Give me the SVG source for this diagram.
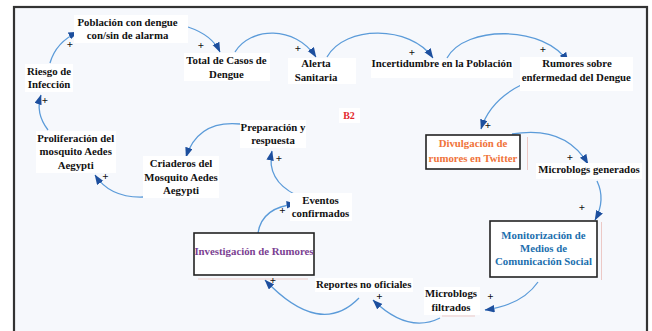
<svg xmlns="http://www.w3.org/2000/svg" width="652" height="331" viewBox="0 0 652 331">
<defs>
<marker id="ah" markerUnits="userSpaceOnUse" markerWidth="10" markerHeight="8" refX="9.5" refY="3.75" orient="auto">
<path d="M0,0 L10,3.75 L0,7.5 z" fill="#1d4f9e"/>
</marker>
<style>
.t{font-family:"Liberation Serif","Times New Roman",serif;font-weight:bold;font-size:10.8px;fill:#111;text-anchor:middle}
.p{font-family:"Liberation Serif","Times New Roman",serif;font-weight:bold;font-size:11px;fill:#111;text-anchor:middle}
.bg{fill:#ffffff}
.box{fill:#ffffff;stroke:#222;stroke-width:1.6}
.c{fill:none;stroke:#5b9bd9;stroke-width:1.3;marker-end:url(#ah)}
.ghost{stroke:#ecc9c6;stroke-width:1;fill:none}
</style>
</defs>
<rect x="0" y="0" width="652" height="331" fill="#ffffff"/>
<rect x="14" y="7" width="633" height="340" fill="#f6f8fc" stroke="#333" stroke-width="2.2"/>

<g id="connectors">
<path class="c" d="M50,63 Q56,42 78,32"/>
<path class="c" d="M48,130 Q35,113 41,95"/>
<path class="c" d="M188,27 Q212,35 220,52"/>
<path class="c" d="M235,52 C250,27 295,25 316,57"/>
<path class="c" d="M327,57 C345,25 410,25 433,58"/>
<path class="c" d="M447,58 C465,25 545,25 568,62"/>
<path class="c" d="M523,84 Q490,100 481,129"/>
<path class="c" d="M512,134 Q565,125 588,164"/>
<path class="c" d="M597,181 Q606,200 595,220"/>
<path class="c" d="M538,282 Q522,305 485,310"/>
<path class="c" d="M440,318 Q408,334 373,300"/>
<path class="c" d="M359,298 Q320,338 265,280"/>
<path class="c" d="M258,233 Q262,207 296,204"/>
<path class="c" d="M296,195 Q266,180 272,151"/>
<path class="c" d="M240,124 Q198,120 186,157"/>
<path class="c" d="M143,197 Q110,198 95,175"/>
</g>

<g id="n_poblacion">
<rect class="bg" x="74" y="15" width="114" height="28"/>
<text class="t" x="127.5" y="26">Población con dengue</text>
<text class="t" x="127.5" y="38.5">con/sin de alarma</text>
</g>
<g id="n_riesgo">
<rect class="bg" x="25" y="64" width="48" height="28"/>
<text class="t" x="49" y="75">Riesgo de</text>
<text class="t" x="49" y="88">Infección</text>
</g>
<g id="n_total">
<rect class="bg" x="184" y="53" width="86" height="28"/>
<text class="t" x="226.5" y="64">Total de Casos de</text>
<text class="t" x="226.5" y="77.5">Dengue</text>
</g>
<g id="n_alerta">
<rect class="bg" x="288" y="58" width="68" height="26"/>
<text class="t" x="316" y="67.3">Alerta</text>
<text class="t" x="316" y="80.7">Sanitaria</text>
</g>
<g id="n_incertidumbre">
<rect class="bg" x="371" y="60" width="142" height="18"/>
<text class="t" x="441.7" y="67">Incertidumbre en la Población</text>
</g>
<g id="n_rumores">
<rect class="bg" x="520" y="57" width="113" height="34"/>
<text class="t" x="577" y="66.7">Rumores sobre</text>
<text class="t" x="576.3" y="80.7">enfermedad del Dengue</text>
</g>
<g id="n_b2">
<rect class="bg" x="339" y="108" width="21" height="15"/>
<text class="t" x="349" y="119" style="fill:#e3282b;font-size:10px">B2</text>
</g>
<g id="n_divulgacion">
<line class="ghost" x1="527.5" y1="137" x2="527.5" y2="170"/>
<rect class="box" x="426" y="135" width="94" height="34"/>
<text class="t" x="473" y="147.3" style="fill:#f0733a">Divulgación de</text>
<text class="t" x="473" y="161.7" style="fill:#f0733a">rumores en Twitter</text>
</g>
<g id="n_mbgenerados">
<rect class="bg" x="536" y="163" width="106" height="16"/>
<text class="t" x="589" y="173.3">Microblogs generados</text>
</g>
<g id="n_monitorizacion">
<line class="ghost" x1="601.5" y1="222" x2="601.5" y2="280"/>
<rect class="box" x="490" y="221" width="107" height="56"/>
<text class="t" x="543.5" y="238.5" style="fill:#1b6fae">Monitorización de</text>
<text class="t" x="543.5" y="251.5" style="fill:#1b6fae">Medios de</text>
<text class="t" x="543.5" y="264.5" style="fill:#1b6fae">Comunicación Social</text>
</g>
<g id="n_mbfiltrados">
<rect class="bg" x="424" y="287" width="56" height="28"/>
<line class="ghost" x1="442" y1="316" x2="475" y2="316"/>
<text class="t" x="451" y="297.3">Microblogs</text>
<text class="t" x="451" y="311">filtrados</text>
</g>
<g id="n_reportes">
<rect class="bg" x="315" y="278" width="98" height="14"/>
<text class="t" x="363.7" y="288.3">Reportes no oficiales</text>
</g>
<g id="n_investigacion">
<line class="ghost" x1="198" y1="279" x2="308" y2="279"/>
<rect class="box" x="194" y="233" width="120" height="42"/>
<text class="t" x="254" y="255" style="fill:#7b3f92">Investigación de Rumores</text>
</g>
<g id="n_eventos">
<rect class="bg" x="290" y="193" width="62" height="28"/>
<text class="t" x="320.5" y="204">Eventos</text>
<text class="t" x="320.5" y="217.3">confirmados</text>
</g>
<g id="n_preparacion">
<rect class="bg" x="240" y="120" width="66" height="28"/>
<text class="t" x="273" y="130.7">Preparación y</text>
<text class="t" x="273" y="144.3">respuesta</text>
</g>
<g id="n_criaderos">
<rect class="bg" x="143" y="156" width="76" height="42"/>
<text class="t" x="181" y="167">Criaderos del</text>
<text class="t" x="181" y="180.5">Mosquito Aedes</text>
<text class="t" x="181" y="194">Aegypti</text>
</g>
<g id="n_proliferacion">
<rect class="bg" x="36" y="131" width="80" height="42"/>
<text class="t" x="75.7" y="141.5">Proliferación del</text>
<text class="t" x="75.7" y="155">mosquito Aedes</text>
<text class="t" x="75.7" y="168.5">Aegypti</text>
</g>

<g id="signs">
<text class="p" x="70" y="48">+</text>
<text class="p" x="45" y="104">+</text>
<text class="p" x="201" y="49">+</text>
<text class="p" x="298" y="52">+</text>
<text class="p" x="412" y="55.5">+</text>
<text class="p" x="543" y="53">+</text>
<text class="p" x="488" y="129">+</text>
<text class="p" x="570" y="161">+</text>
<text class="p" x="582" y="211">+</text>
<text class="p" x="490.5" y="300">+</text>
<text class="p" x="379.5" y="300">+</text>
<text class="p" x="273" y="284">+</text>
<text class="p" x="282.5" y="214">+</text>
<text class="p" x="279" y="162">+</text>
<text class="p" x="105.5" y="180">+</text>
</g>
</svg>
